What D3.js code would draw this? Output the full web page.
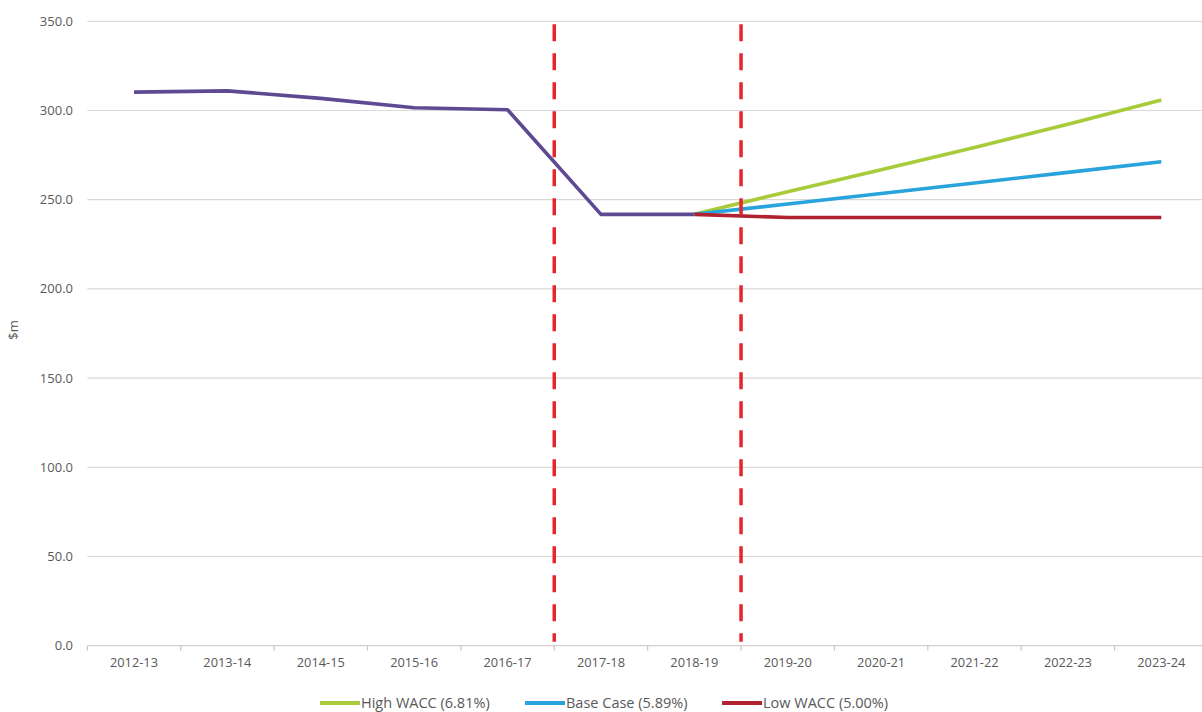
<!DOCTYPE html>
<html>
<head>
<meta charset="utf-8">
<script src="https://cdn.jsdelivr.net/npm/d3@7"></script>
<style>
  html, body { margin: 0; padding: 0; background: #fff; }
  svg { display: block; }
  text { font-family: "Open Sans", "Liberation Sans", sans-serif; fill: #595959; }
</style>
</head>
<body>
<svg id="chart" width="1202" height="712"></svg>
<script>
// Financial years on the category axis
const categories = ["2012-13", "2013-14", "2014-15", "2015-16", "2016-17", "2017-18",
                    "2018-19", "2019-20", "2020-21", "2021-22", "2022-23", "2023-24"];

// Historical / current revenue ($m)
const actual = [310.3, 311.0, 306.8, 301.5, 300.4, 241.8, 241.8, null, null, null, null, null];

// Forecast scenarios ($m), starting from 2018-19
const highWacc = [null, null, null, null, null, null, 241.8, 254.5, 266.8, 279.3, 292.3, 305.9];
const baseCase = [null, null, null, null, null, null, 241.8, 247.6, 253.5, 259.4, 265.3, 271.3];
const lowWacc  = [null, null, null, null, null, null, 241.8, 240.0, 240.0, 240.0, 240.0, 240.0];

// Y axis ticks
const yTicks = [0, 50, 100, 150, 200, 250, 300, 350];

// Period boundaries marked with dashed lines (between these category pairs)
const boundaries = [["2016-17", "2017-18"], ["2018-19", "2019-20"]];

const legendLabels = ["High WACC (6.81%)", "Base Case (5.89%)", "Low WACC (5.00%)"];

const svg = d3.select("#chart");

const x = d3.scaleBand().domain(categories).range([87.3, 1208]).padding(0);
const y = d3.scaleLinear().domain([0, 350]).range([645.7, 21.3]);
const cx = c => x(c) + x.bandwidth() / 2;

// Horizontal gridlines
svg.append("g")
  .selectAll("line")
  .data(yTicks.filter(d => d > 0))
  .join("line")
  .attr("x1", 87.3).attr("x2", 1202)
  .attr("y1", d => y(d)).attr("y2", d => y(d))
  .attr("stroke", "#d9d9d9").attr("stroke-width", 1.2);

// Y tick labels
svg.append("g")
  .selectAll("text")
  .data(yTicks)
  .join("text")
  .attr("x", 73).attr("y", d => y(d))
  .attr("dy", "0.35em")
  .attr("text-anchor", "end")
  .attr("font-size", 13)
  .text(d => d3.format(".1f")(d));

// Y axis title
svg.append("text")
  .attr("transform", "translate(18,330) rotate(-90)")
  .attr("text-anchor", "middle")
  .attr("font-size", 13)
  .text("$m");

// X axis (baseline with tick marks at category boundaries)
const xAxis = d3.axisBottom(x).tickSize(0).tickPadding(12);
const gx = svg.append("g").attr("transform", `translate(0,${y(0)})`).call(xAxis);
gx.select(".domain").remove();
gx.selectAll(".tick line").remove();
gx.selectAll("text").attr("font-size", 12.8).attr("fill", "#595959")
  .style("font-family", "\"Open Sans\", sans-serif");
gx.append("line")
  .attr("x1", 87.3).attr("x2", 1202).attr("y1", 0).attr("y2", 0)
  .attr("stroke", "#d0d0d0").attr("stroke-width", 1.2);
gx.append("g")
  .selectAll("line")
  .data(categories)
  .join("line")
  .attr("x1", d => x(d)).attr("x2", d => x(d))
  .attr("y1", 0).attr("y2", 5)
  .attr("stroke", "#c8c8c8").attr("stroke-width", 1.2);

// Series lines
const line = d3.line()
  .defined(d => d.v != null)
  .x(d => cx(d.c))
  .y(d => y(d.v));

const series = [
  { values: actual,   color: "#5e4a92" },
  { values: highWacc, color: "#a8cb3a" },
  { values: baseCase, color: "#29a3dc" },
  { values: lowWacc,  color: "#b0222f" }
];

svg.append("g")
  .selectAll("path")
  .data(series)
  .join("path")
  .attr("d", s => line(categories.map((c, i) => ({ c, v: s.values[i] }))))
  .attr("fill", "none")
  .attr("stroke", s => s.color)
  .attr("stroke-width", 3.6)
  .attr("stroke-linejoin", "round");

// Dashed period markers
svg.append("g")
  .selectAll("line")
  .data(boundaries)
  .join("line")
  .attr("x1", d => x(d[1])).attr("x2", d => x(d[1]))
  .attr("y1", y(350) + 3).attr("y2", y(0) - 4)
  .attr("stroke", "#e5262c")
  .attr("stroke-width", 3.5)
  .attr("stroke-dasharray", "17,12");

// Legend
const legend = svg.append("g").attr("transform", "translate(0,703)");
const legendItems = [
  { label: legendLabels[0], color: "#a8cb3a", x: 320 },
  { label: legendLabels[1], color: "#29a3dc", x: 525 },
  { label: legendLabels[2], color: "#b0222f", x: 722 }
];
const li = legend.selectAll("g").data(legendItems).join("g")
  .attr("transform", d => `translate(${d.x},0)`);
li.append("line")
  .attr("x1", 0).attr("x2", 40).attr("y1", 0).attr("y2", 0)
  .attr("stroke", d => d.color).attr("stroke-width", 4);
li.append("text")
  .attr("x", 41).attr("y", 0).attr("dy", "0.35em")
  .attr("font-size", 14.5)
  .text(d => d.label);
</script>
</body>
</html>
